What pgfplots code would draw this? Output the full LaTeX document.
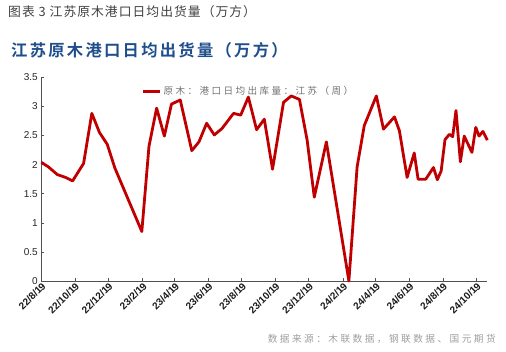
\documentclass[border=0pt]{standalone}
\usepackage{fontspec}
\setmainfont{Liberation Sans}
\newfontfamily\cjk{Noto Sans CJK SC}
\newfontfamily\cjkt[LetterSpace=8]{Noto Sans CJK SC}
\newfontfamily\cjkl[LetterSpace=25]{Noto Sans CJK SC}
\newfontfamily\cjkb[LetterSpace=14]{Noto Sans CJK SC Bold}
\usepackage{pgfplots}
\pgfplotsset{compat=1.18}
\definecolor{linered}{RGB}{192,0,0}
\definecolor{titleblue}{RGB}{31,78,140}
\definecolor{axgray}{RGB}{80,80,80}
\begin{document}
\begin{tikzpicture}[x=1pt,y=1pt]
\path[use as bounding box] (0,0) rectangle (506,351);
\node[anchor=west,font=\cjkt\fontsize{12.8}{12.8}\selectfont,text=black!75,inner sep=0] at (8,339) {图表 3 江苏原木港口日均出货量（万方）};
\node[anchor=west,font=\cjkb\fontsize{16.3}{16.3}\selectfont,text=titleblue,inner sep=0] at (11,301) {江苏原木港口日均出货量（万方）};
\node[anchor=east,font=\cjkl\fontsize{9.7}{9.7}\selectfont,text=black!38,inner sep=0] at (496,12) {数据来源：木联数据，钢联数据、国元期货};
\begin{axis}[
  at={(41.3pt,70pt)}, anchor=south west,
  scale only axis, width=446pt, height=203.7pt,
  xmin=0, xmax=812, ymin=0, ymax=3.5,
  axis x line*=bottom, axis y line*=left,
  axis line style={color=axgray, line width=0.8pt},
  tick style={color=axgray, line width=0.6pt},
  tick align=inside, major tick length=3pt,
  ytick={0,0.5,...,3.5},
  yticklabels={0,0.5,1,1.5,2,2.5,3,3.5},
  y tick label style={font=\fontsize{10}{10}\selectfont, text=black!85},
  xtick={0,61,122,184,243,304,365,426,487,549,609,670,731,792},
  xticklabels={22/8/19,22/10/19,22/12/19,23/2/19,23/4/19,23/6/19,23/8/19,23/10/19,23/12/19,24/2/19,24/4/19,24/6/19,24/8/19,24/10/19},
  x tick label style={font=\bfseries\fontsize{10}{10}\selectfont, rotate=45, anchor=north east, inner sep=0.5pt, text=black!90},
  legend style={draw=none, fill=none, at={(0.225,0.965)}, anchor=north west, font=\cjkl\fontsize{9.6}{9.6}\selectfont, text=black!55, legend cell align=left, inner sep=0pt},
  legend image post style={line width=2.8pt},
  clip=false,
]
\addplot[color=linered, line width=2.8pt, line join=round] coordinates {
(0,2.04) (13,1.96) (29,1.83) (44,1.78) (57,1.72) (77,2.02) (92,2.88) (106,2.55)
(120,2.35) (134,1.94) (183,0.85) (196,2.31) (210,2.97) (224,2.49) (237,3.04)
(253,3.11) (274,2.24) (287,2.39) (301,2.71) (315,2.51) (329,2.62) (350,2.88)
(363,2.85) (377,3.16) (392,2.60) (406,2.78) (421,1.92) (441,3.07) (455,3.18)
(470,3.12) (484,2.42) (497,1.44) (519,2.39) (560,0.0) (575,1.96) (588,2.67)
(610,3.18) (623,2.61) (643,2.82) (652,2.58) (666,1.78) (679,2.20) (686,1.75)
(700,1.75) (714,1.95) (721,1.74) (728,1.89) (735,2.43) (743,2.52) (749,2.48)
(755,2.93) (763,2.05) (770,2.49) (784,2.21) (791,2.64) (797,2.49) (804,2.57)
(812,2.42)
};
\addlegendentry{原木：港口日均出库量：江苏（周）}
\end{axis}
\end{tikzpicture}
\end{document}
